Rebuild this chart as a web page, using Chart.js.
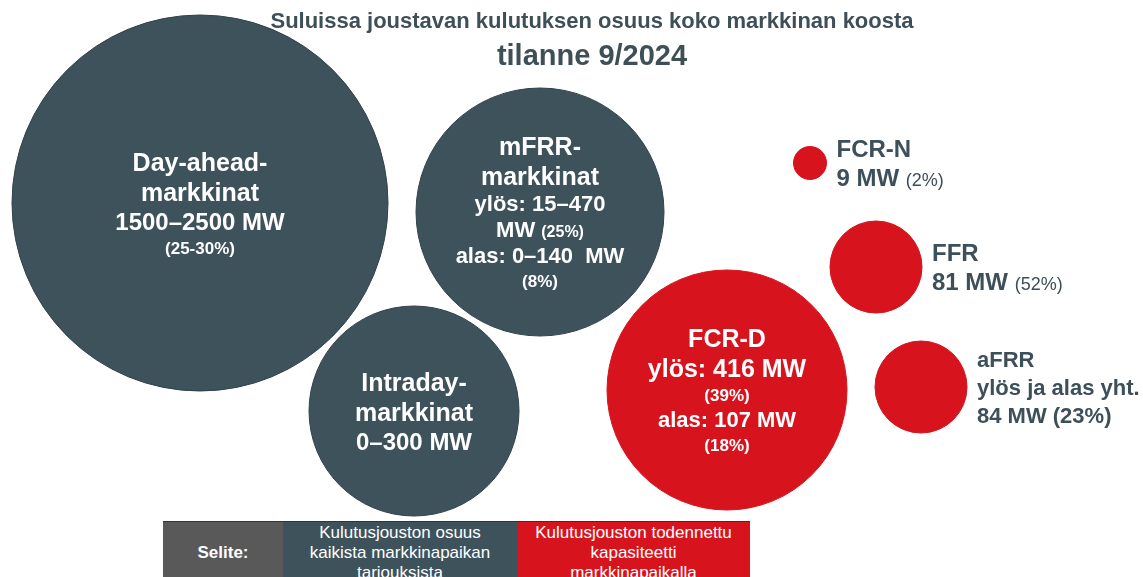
<!DOCTYPE html>
<html>
<head>
<meta charset="utf-8">
<title>Suluissa joustavan kulutuksen osuus koko markkinan koosta</title>
<script src="https://cdn.jsdelivr.net/npm/chart.js@4.4.1/dist/chart.umd.min.js"></script>
<style>
    body { margin: 0; background: #fff; overflow: hidden; font-family: "Liberation Sans", Arial, sans-serif; }
    #wrap { position: relative; width: 1143px; height: 577px; overflow: hidden; }
    #bubbles { position: absolute; left: 0; top: 0; }
    .title { position: absolute; left: 592px; transform: translateX(-50%); white-space: nowrap; color: #3f4f58; font-weight: bold; }
    #t1 { top: 10px; font-size: 22px; line-height: 22px; }
    #t2 { top: 41px; font-size: 29px; line-height: 29px; }
    #legend { position: absolute; left: 163px; top: 521px; width: 587px; height: 70px; display: flex; border-top: 1px solid #333; }
    #legend div { color: #fff; font-size: 17px; line-height: 20px; text-align: center; padding-top: 1px; }
    #legend .key { width: 120px; background: #595959; font-weight: bold; padding-top: 21px; }
    #legend .share { width: 234px; background: #3e525c; }
    #legend .capacity { width: 233px; background: #d7141e; }
</style>
</head>
<body>
<div id="wrap">
    <canvas id="bubbles" width="1143" height="577"></canvas>
    <div class="title" id="t1">Suluissa joustavan kulutuksen osuus koko markkinan koosta</div>
    <div class="title" id="t2">tilanne 9/2024</div>
    <div id="legend">
        <div class="key">Selite:</div>
        <div class="share">Kulutusjouston osuus<br>kaikista markkinapaikan<br>tarjouksista</div>
        <div class="capacity">Kulutusjouston todennettu<br>kapasiteetti<br>markkinapaikalla</div>
    </div>
</div>
<script>
// Share of flexible demand in all market bids (slate bubbles)
const shareMarkets = ['Day-ahead', 'mFRR', 'Intraday'];
const shareX = [20.0, 54.0, 41.4];
const shareY = [37.4, 36.5, 16.6];
const shareSize = [18.8, 12.4, 10.5];
const shareLabels = [
    ['Day-ahead-', 'markkinat', '1500–2500 MW', '(25-30%)'],
    ['mFRR-', 'markkinat', 'ylös: 15–470', 'MW (25%)', 'alas: 0–140  MW', '(8%)'],
    ['Intraday-', 'markkinat', '0–300 MW']
];

// Verified capacity of flexible demand (red bubbles)
const capacityMarkets = ['FCR-D', 'FCR-N', 'FFR', 'aFRR'];
const capacityX = [72.7, 81.0, 87.6, 92.1];
const capacityY = [18.7, 41.4, 31.0, 19.0];
const capacitySize = [12.0, 1.65, 4.6, 4.6];
const capacityLabels = [
    ['FCR-D', 'ylös: 416 MW', '(39%)', 'alas: 107 MW', '(18%)'],
    ['FCR-N', '9 MW (2%)'],
    ['FFR', '81 MW (52%)'],
    ['aFRR', 'ylös ja alas yht.', '84 MW (23%)']
];

const FONT = '"Liberation Sans", Arial, sans-serif';

// "MW (25%)" -> [['MW ', false], ['(25%)', true]]
function splitRuns(line) {
    const m = line.match(/^(.*?)(\(\d[\d-]*%\))$/);
    if (!m) return [[line, false]];
    return m[1] ? [[m[1], false], [m[2], true]] : [[m[2], true]];
}

function drawRuns(ctx, x, y, runs, fonts) {
    runs.forEach((run, k) => {
        ctx.font = fonts[k];
        ctx.fillText(run[0], x, y);
        x += ctx.measureText(run[0]).width;
    });
}

function runsWidth(ctx, runs, fonts) {
    let w = 0;
    runs.forEach((run, k) => {
        ctx.font = fonts[k];
        w += ctx.measureText(run[0]).width;
    });
    return w;
}

function drawInside(ctx, cx, cy, lines) {
    const specs = lines.map((line, i) => {
        const runs = splitRuns(line);
        const pctOnly = runs.length === 1 && runs[0][1];
        const size = pctOnly ? 17 : i < 2 ? 25 : lines.length <= 4 ? 24 : 22;
        const fonts = runs.map(r => r[1] && !pctOnly ? 'bold 16px ' + FONT : 'bold ' + size + 'px ' + FONT);
        return { runs, size, fonts, lh: pctOnly ? 24 : Math.round(size * 1.2) };
    });
    let total = 0;
    specs.forEach((s, i) => { if (i > 0) total += s.lh; });
    let y = cy - (total - specs[0].size * 0.72) / 2;
    ctx.fillStyle = '#ffffff';
    specs.forEach((s, i) => {
        if (i > 0) y += s.lh;
        const w = runsWidth(ctx, s.runs, s.fonts);
        drawRuns(ctx, cx - w / 2, y, s.runs, s.fonts);
    });
}

function drawOutside(ctx, x, cy, lines) {
    const compact = lines.length > 2;
    const size = compact ? 22 : 24;
    const lh = compact ? 28 : 29;
    const total = lh * (lines.length - 1);
    let y = cy - (total - size * 0.72) / 2;
    ctx.fillStyle = '#3d4f59';
    lines.forEach((line, i) => {
        const runs = splitRuns(line);
        const fonts = runs.map(r => r[1] && !compact ? '18px ' + FONT : 'bold ' + size + 'px ' + FONT);
        drawRuns(ctx, x, y + i * lh, runs, fonts);
    });
}

const bubbleText = {
    id: 'bubbleText',
    afterDatasetsDraw(chart) {
        const ctx = chart.ctx;
        ctx.save();
        ctx.textAlign = 'left';
        ctx.textBaseline = 'alphabetic';
        chart.data.datasets.forEach((ds, di) => {
            chart.getDatasetMeta(di).data.forEach((pt, i) => {
                const r = pt.options.radius;
                // big bubbles carry their text inside, small ones to the right
                if (r > 60) drawInside(ctx, pt.x, pt.y, ds.textLines[i]);
                else drawOutside(ctx, pt.x + r + 10, pt.y, ds.textLines[i]);
            });
        });
        ctx.restore();
    }
};

const ctx = document.getElementById('bubbles').getContext('2d');
const chart = new Chart(ctx, {
    type: 'bubble',
    data: {
        datasets: [{
            label: 'Kulutusjouston osuus kaikista markkinapaikan tarjouksista',
            data: shareMarkets.map((m, i) => ({ x: shareX[i], y: shareY[i], size: shareSize[i], name: m })),
            textLines: shareLabels,
            backgroundColor: '#3e525c',
            borderColor: '#31424a',
            borderWidth: 1,
            clip: false
        }, {
            label: 'Kulutusjouston todennettu kapasiteetti markkinapaikalla',
            data: capacityMarkets.map((m, i) => ({ x: capacityX[i], y: capacityY[i], size: capacitySize[i], name: m })),
            textLines: capacityLabels,
            backgroundColor: '#d7141e',
            borderColor: '#d7141e',
            borderWidth: 1,
            clip: false
        }]
    },
    options: {
        responsive: false,
        animation: false,
        events: [],
        layout: { padding: 0, autoPadding: false },
        scales: {
            x: { type: 'linear', min: 0, max: 114.3, display: false },
            y: { type: 'linear', min: 0, max: 57.7, display: false }
        },
        plugins: {
            legend: { display: false },
            tooltip: { enabled: false },
            title: { display: false }
        }
    },
    plugins: [bubbleText]
});

// bubble size is in x-axis units: turn it into a pixel radius through the x scale
const xs = chart.scales.x;
chart.data.datasets.forEach(ds => {
    ds.data = ds.data.map(d => Object.assign({}, d, {
        r: Math.abs(xs.getPixelForValue(d.size) - xs.getPixelForValue(0))
    }));
});
chart.update();
</script>
</body>
</html>
